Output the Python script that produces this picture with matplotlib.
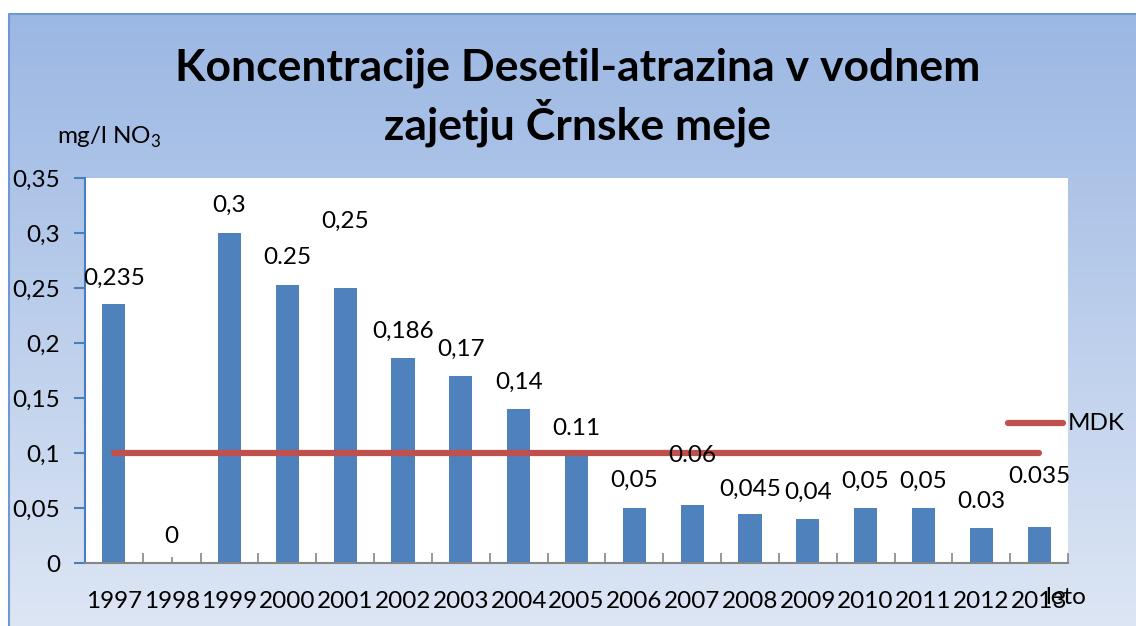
import numpy as np
import matplotlib.pyplot as plt
from matplotlib.ticker import FuncFormatter, MultipleLocator, FixedLocator

plt.rcParams['font.family'] = ['Lato', 'DejaVu Sans']
plt.rcParams['mathtext.fontset'] = 'custom'
plt.rcParams['mathtext.rm'] = 'Lato'

years = ['1997', '1998', '1999', '2000', '2001', '2002', '2003', '2004', '2005',
         '2006', '2007', '2008', '2009', '2010', '2011', '2012', '2013']
values = [0.235, 0.0, 0.3, 0.253, 0.25, 0.186, 0.17, 0.14, 0.1,
          0.05, 0.053, 0.045, 0.04, 0.05, 0.05, 0.032, 0.033]
labels = ['0,235', '0', '0,3', '0.25', '0,25', '0,186', '0,17', '0,14', '0.11',
          '0,05', '0.06', '0,045', '0,04', '0,05', '0,05', '0.03', '0.035']
mdk = 0.1

# label heights as they were placed by hand in the original
label_y = [0.259, 0.024, 0.325, 0.278, 0.311, 0.211, 0.194, 0.164, 0.122,
           0.075, 0.098, 0.067, 0.064, 0.074, 0.074, 0.056, 0.079]

FS = 17.5
W, H = 1136, 626
fig = plt.figure(figsize=(W / 100, H / 100), dpi=100)

# background gradient with border
bg = fig.add_axes([0, 0, 1, 1], zorder=-10)
bg.set_xlim(0, W)
bg.set_ylim(H, 0)
bg.axis('off')
top = np.array([155, 183, 227]) / 255
bot = np.array([221, 230, 244]) / 255
t = np.linspace(0, 1, 300)[:, None]
grad = (top * (1 - t) + bot * t)[:, None, :]
bg.imshow(grad, extent=[9, W + 5, H + 5, 14], aspect='auto')
bg.plot([9, 9, W + 5], [H + 5, 14, 14], color='#6f97d0', lw=1.5)

# plot area
x0, x1, y0, y1 = 85, 1068, 178, 563
ax = fig.add_axes([x0 / W, 1 - y1 / H, (x1 - x0) / W, (y1 - y0) / H])
ax.set_facecolor('white')

n = len(years)
x = np.arange(n)
ax.bar(x, values, width=0.4, color='#4f81bd', zorder=2)
ax.plot([x[0], x[-1]], [mdk, mdk], color='#c0504d', lw=4.5,
        solid_capstyle='round', zorder=3)

for xi, lab, ly in zip(x, labels, label_y):
    ax.text(xi, ly, lab, ha='center', va='center', fontsize=FS, zorder=4)

ax.set_xlim(-0.5, n - 0.5)
ax.set_ylim(0, 0.35)
ax.yaxis.set_major_locator(MultipleLocator(0.05))
ax.yaxis.set_major_formatter(FuncFormatter(
    lambda v, p: '0' if abs(v) < 1e-9 else ('%g' % round(v, 3)).replace('.', ',')))

ax.xaxis.set_major_locator(FixedLocator(x))
ax.set_xticklabels(years)
ax.xaxis.set_minor_locator(FixedLocator(np.arange(n + 1) - 0.5))

for s in ['top', 'right']:
    ax.spines[s].set_visible(False)
ax.spines['left'].set_color('#4a7ebb')
ax.spines['left'].set_linewidth(1.5)
ax.spines['bottom'].set_color('#868686')
ax.spines['bottom'].set_linewidth(1.5)

ax.tick_params(axis='y', direction='out', length=8, width=1.5, color='#4a7ebb',
               labelsize=FS, pad=10)
ax.tick_params(axis='x', which='major', direction='in', length=4, width=1.2,
               color='#868686', labelsize=FS, pad=20)
ax.tick_params(axis='x', which='minor', direction='in', length=7, width=1.2,
               color='#868686')

# legend
ax.plot([1008, 1063], [423, 423], color='#c0504d', lw=4.5, solid_capstyle='round',
        transform=bg.transData, clip_on=False, zorder=5)
fig.text(1068 / W, 1 - 423 / H, 'MDK', fontsize=FS, va='center', ha='left')

fig.text(578 / W, 1 - 97 / H, 'Koncentracije Desetil-atrazina v vodnem\nzajetju Črnske meje',
         fontsize=32, fontweight='bold', ha='center', va='center', linespacing=1.25)
fig.text(57 / W, 1 - 137 / H, 'mg/l NO$_3$', fontsize=FS, ha='left', va='center')
fig.text(1045 / W, 1 - 598 / H, 'leto', fontsize=FS, ha='left', va='center')

fig.savefig('out.png', dpi=100)
